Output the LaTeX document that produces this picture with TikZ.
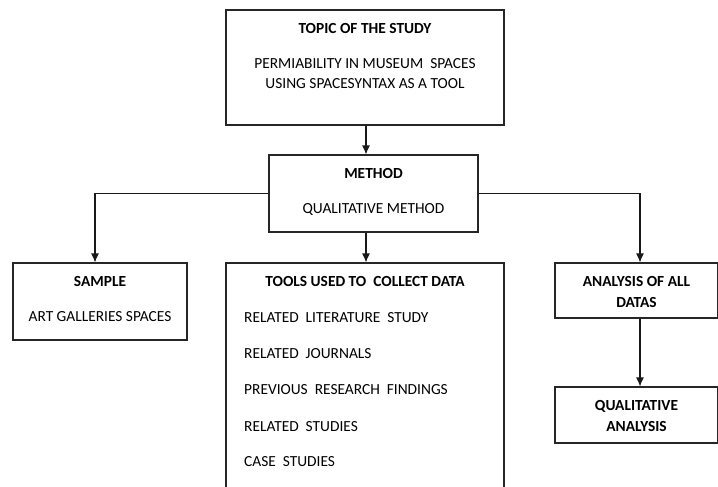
\documentclass[tikz,border=0pt]{standalone}
\usepackage{fontspec}
\setmainfont{Carlito}
\usetikzlibrary{arrows.meta}

\tikzset{
  box/.style={draw=black!85, line width=1.1pt, inner sep=0pt},
  arr/.style={draw=black!90, line width=1.1pt, -{Latex[length=9pt,width=8pt]}},
  lbl/.style={font=\fontsize{15.4}{18}\selectfont, inner sep=0pt},
  ttl/.style={font=\fontsize{15.4}{18}\selectfont\bfseries, inner sep=0pt}
}

\begin{document}
\begin{tikzpicture}[x=1pt,y=-1pt]
            \useasboundingbox (0,0) rectangle (718,487);

            \node[box, minimum width=278pt, minimum height=115pt] (topic) at (365,67.5) {};
            \node[box, minimum width=209pt, minimum height=77pt] (method) at (373.5,193.5) {};
            \node[box, minimum width=174pt, minimum height=77pt] (sample) at (100,301.5) {};
            \node[box, minimum width=278pt, minimum height=240pt] (tools) at (365,383) {};
            \node[box, minimum width=163pt, minimum height=55pt] (analysis) at (636.5,290.5) {};
            \node[box, minimum width=163pt, minimum height=56pt] (qualanalysis) at (636.5,415) {};

            \node[ttl] (topictitle) at (365,29) {TOPIC OF THE STUDY};
            \node[lbl] (topicline1) at (365,64) {PERMIABILITY IN MUSEUM\ \ SPACES};
            \node[lbl] (topicline2) at (365,84) {USING SPACESYNTAX AS A TOOL};

            \node[ttl] (methodtitle) at (373.5,174) {METHOD};
            \node[lbl] (methodline) at (373.5,210) {QUALITATIVE METHOD};

            \node[ttl] (sampletitle) at (100,282) {SAMPLE};
            \node[lbl] (sampleline) at (100,317) {ART GALLERIES SPACES};

            \node[ttl] (toolstitle) at (365,282) {TOOLS USED TO\ \ COLLECT DATA};
            \node[lbl, anchor=west] (tool1) at (244,318) {RELATED\ \ LITERATURE\ \ STUDY};
            \node[lbl, anchor=west] (tool2) at (244,354) {RELATED\ \ JOURNALS};
            \node[lbl, anchor=west] (tool3) at (244,390) {PREVIOUS\ \ RESEARCH\ \ FINDINGS};
            \node[lbl, anchor=west] (tool4) at (244,427) {RELATED\ \ STUDIES};
            \node[lbl, anchor=west] (tool5) at (244,462) {CASE\ \ STUDIES};

            \node[ttl] (analysisline1) at (636.5,282) {ANALYSIS OF ALL};
            \node[ttl] (analysisline2) at (636.5,303) {DATAS};

            \node[ttl] (qualline1) at (636.5,406) {QUALITATIVE};
            \node[ttl] (qualline2) at (636.5,427) {ANALYSIS};

            \draw[arr] ([xshift=1pt]topic.south) -- ([xshift=1pt]topic.south |- method.north);
            \draw[arr] ([xshift=1pt]tools.north |- method.south) -- ([xshift=1pt]tools.north);
            \draw[arr] (method.west) -| ([xshift=-5pt]sample.north);
            \draw[arr] (method.east) -| ([xshift=3.5pt]analysis.north);
            \draw[arr] ([xshift=3.5pt]analysis.south) -- ([xshift=3.5pt]qualanalysis.north);
        \end{tikzpicture}
\end{document}
